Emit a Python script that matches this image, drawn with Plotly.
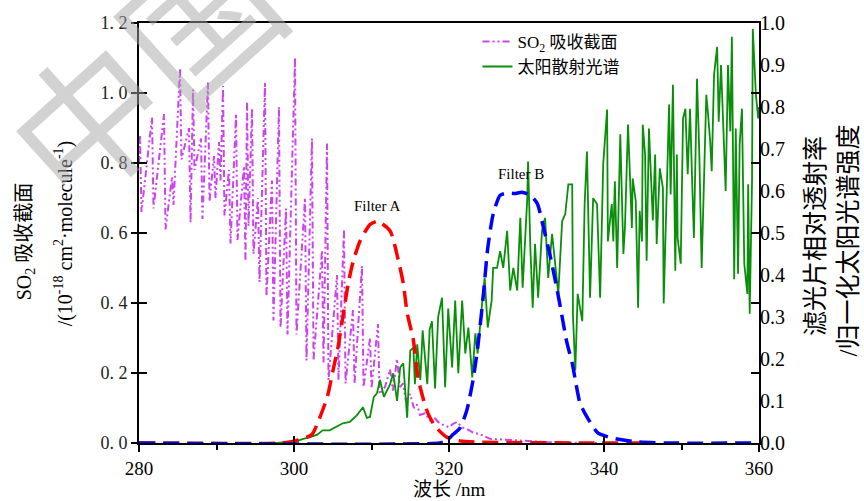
import plotly.graph_objects as go

# ---------------- data ----------------
# SO2 absorption cross-section (left axis, 1e-18 cm^2/molecule)
so2_wl = [280.0,
          280.13, 280.32, 281.68, 281.87, 283.23, 283.42, 284.26, 284.45,
          285.29, 285.48, 286.45, 286.65, 286.97, 287.16, 288.0, 288.19,
          288.9, 289.1, 289.68, 289.87, 290.32, 290.52, 290.84, 291.03,
          291.61, 291.81, 292.52, 292.71, 293.55, 293.74, 293.94, 294.13,
          294.58, 294.77, 295.35, 295.55, 296.26, 296.45, 297.16, 297.35,
          298.06, 298.26, 298.97, 299.16, 300.13, 300.32, 301.42, 301.61,
          302.32, 302.52, 303.61, 303.81, 304.26, 304.45, 305.55, 305.74,
          306.45, 306.65, 307.61, 307.81, 308.77, 308.97, 309.81, 310.0,
          310.84, 311.03,
          311.74, 312.39, 312.77, 313.29, 313.68, 314.06, 314.45, 314.97, 315.48, 315.87,
          316.26, 316.9, 317.55, 318.19, 318.84, 319.48, 320.0, 320.52, 321.03, 321.68,
          322.32, 323.1, 324.0, 325.29, 326.58, 327.87, 329.81, 332.39, 335.6, 339.5]
so2_val = [0.80,
           0.88, 0.66, 0.93, 0.67, 0.94, 0.61, 0.76, 0.68,
           1.07, 0.81, 0.90, 0.63, 1.01, 0.78, 0.87, 0.64,
           1.03, 0.69, 0.82, 0.70, 0.86, 0.75, 1.02, 0.65,
           0.78, 0.57, 0.94, 0.58, 0.79, 0.52, 0.975, 0.62,
           0.955, 0.54, 0.70, 0.46, 1.03, 0.42, 0.75, 0.35,
           0.96, 0.33, 0.67, 0.31, 1.10, 0.31, 0.70, 0.236,
           0.87, 0.236, 0.55, 0.23, 0.856, 0.18, 0.48, 0.18,
           0.61, 0.17, 0.38, 0.17, 0.506, 0.16, 0.30, 0.156,
           0.34, 0.14,
           0.16, 0.21, 0.15, 0.24, 0.16, 0.17, 0.12, 0.14, 0.10, 0.11,
           0.08, 0.085, 0.065, 0.07, 0.055, 0.05, 0.045, 0.055, 0.06, 0.045,
           0.04, 0.03, 0.025, 0.012, 0.01, 0.008, 0.005, 0.003, 0.001, 0.0]

# Normalised scattered solar spectrum (right axis)
sun_wl = [296.0, 297.8, 299.5, 300.4, 301.2, 302.1, 303.0, 303.7, 304.6, 305.5,
          306.3, 307.2, 308.1, 308.9, 309.4, 309.8, 310.3, 310.7, 311.1, 311.6,
          312.0, 312.4, 312.8, 313.3, 313.7, 314.1, 314.6, 315.0, 315.4, 315.6,
          315.9, 316.3, 316.6, 317.2, 317.5, 317.8, 318.2, 318.6, 319.1, 319.5,
          319.9, 320.4, 320.8, 321.2, 321.7, 322.1, 322.5, 323.0, 323.4, 323.7,
          324.3, 324.6, 325.0, 325.5, 325.7, 326.2, 326.6, 327.0, 327.5, 327.9,
          328.3, 328.8, 329.2, 329.5, 330.1, 330.2, 330.5, 330.8, 331.1, 331.5,
          332.0, 332.4, 332.8, 333.3, 333.7, 334.1, 334.6, 335.0, 335.4, 335.9,
          336.0, 336.3, 336.6, 337.2, 337.5, 337.8, 338.2, 338.6, 339.1, 339.5,
          339.9, 340.4, 340.5, 341.0, 341.2, 341.4, 341.7, 342.1, 342.5, 342.7,
          343.1, 343.6, 343.7, 344.1, 344.4, 344.6, 344.9, 345.0, 345.3, 345.5,
          345.8, 346.2, 346.3, 346.6, 346.8, 347.2, 347.6, 347.7, 348.1, 348.4,
          348.6, 348.9, 349.2, 349.4, 349.5, 349.9, 350.2, 350.5, 350.8, 351.1,
          351.4, 351.6, 352.0, 352.3, 352.6, 352.9, 353.2, 353.4, 353.7, 353.9,
          354.2, 354.6, 354.8, 355.1, 355.4, 355.7, 356.0, 356.3, 356.5, 356.8,
          357.0, 357.3, 357.5, 357.8, 358.1, 358.5, 358.6, 358.8, 359.1, 359.2,
          359.6, 359.9, 360.0]
sun_val = [0.0, 0.0, 0.003, 0.005, 0.01, 0.014, 0.02, 0.03, 0.03, 0.04,
           0.047, 0.05, 0.066, 0.085, 0.06, 0.062, 0.11, 0.118, 0.15, 0.11,
           0.125, 0.14, 0.166, 0.10, 0.18, 0.19, 0.06, 0.22, 0.227, 0.14,
           0.235, 0.15, 0.268, 0.14, 0.27, 0.29, 0.13, 0.30, 0.346, 0.133,
           0.32, 0.18, 0.339, 0.166, 0.339, 0.213, 0.275, 0.156, 0.261, 0.213,
           0.339, 0.393, 0.275, 0.339, 0.417, 0.417, 0.457, 0.417, 0.505, 0.363,
           0.417, 0.363, 0.536, 0.37, 0.583, 0.67, 0.464, 0.322, 0.474, 0.346,
           0.505, 0.536, 0.393, 0.498, 0.427, 0.355, 0.528, 0.545, 0.616, 0.616,
           0.30, 0.173, 0.355, 0.29, 0.569, 0.694, 0.346, 0.583, 0.569, 0.346,
           0.664, 0.794, 0.48, 0.569, 0.48, 0.623, 0.417, 0.735, 0.45, 0.512,
           0.758, 0.512, 0.63, 0.576, 0.322, 0.553, 0.48, 0.758, 0.687, 0.434,
           0.749, 0.559, 0.53, 0.687, 0.474, 0.654, 0.607, 0.332, 0.583, 0.806,
           0.592, 0.853, 0.41, 0.687, 0.488, 0.427, 0.773, 0.796, 0.64, 0.796,
           0.607, 0.488, 0.867, 0.687, 0.417, 0.64, 0.829, 0.789, 0.718, 0.647,
           0.877, 0.943, 0.765, 0.9, 0.742, 0.6, 0.9, 0.742, 0.967, 0.39,
           0.749, 0.403, 0.71, 0.796, 0.427, 0.355, 0.616, 0.308, 0.623, 0.986,
           0.829, 0.773, 0.80]

# Filter A relative transmittance (right axis)
fa_wl = [280.0, 298.2, 300.1, 302.3, 303.1, 304.3, 305.0, 305.7, 306.3, 307.0,
         307.6, 308.5, 309.8, 310.8, 312.4, 313.4, 314.1, 314.6, 315.4, 316.0,
         316.6, 317.3, 318.2, 319.7, 321.4, 324.0, 339.5, 345.0]
fa_val = [0.0, 0.0, 0.005, 0.02, 0.05, 0.11, 0.17, 0.23, 0.30, 0.38,
          0.43, 0.48, 0.52, 0.528, 0.505, 0.44, 0.38, 0.31, 0.245, 0.156,
          0.11, 0.07, 0.04, 0.014, 0.005, 0.002, 0.0, 0.0]

# Filter B relative transmittance (right axis)
fb_wl = [280.0, 318.8, 319.7, 320.5, 321.4, 322.3, 323.1, 323.7, 324.4, 325.0,
         325.7, 326.6, 327.5, 328.5, 329.4, 330.5, 331.4, 332.1, 333.0, 333.9,
         334.6, 335.2, 335.9, 336.3, 336.9, 337.8, 339.2, 341.0, 344.0, 348.0,
         360.0]
fb_val = [0.0, 0.0, 0.005, 0.02, 0.035, 0.078, 0.15, 0.227, 0.346, 0.464,
          0.545, 0.59, 0.595, 0.594, 0.597, 0.59, 0.57, 0.52, 0.45, 0.37,
          0.30, 0.24, 0.19, 0.15, 0.095, 0.062, 0.024, 0.012, 0.003, 0.0,
          0.0]

x_ticks = [280, 300, 320, 340, 360]
left_ticks = [0.0, 0.2, 0.4, 0.6, 0.8, 1.0, 1.2]
left_tick_labels = ["0. 0", "0. 2", "0. 4", "0. 6", "0. 8", "1. 0", "1. 2"]
right_ticks = [0.0, 0.1, 0.2, 0.3, 0.4, 0.5, 0.6, 0.7, 0.8, 0.9, 1.0]
right_tick_labels = ["0.0", "0.1", "0.2", "0.3", "0.4", "0.5", "0.6", "0.7", "0.8", "0.9", "1.0"]

SERIF = "Liberation Serif, Times New Roman, Noto Sans CJK SC, serif"

fig = go.Figure()

fig.add_trace(go.Scatter(
    x=so2_wl, y=so2_val, mode="lines", name="SO<sub>2</sub> 吸收截面",
    line=dict(color="#CC44EE", width=2, dash="7px,3px,2px,3px,2px,3px"),
    yaxis="y", hoverinfo="skip"))
fig.add_trace(go.Scatter(
    x=sun_wl, y=sun_val, mode="lines", name="太阳散射光谱",
    line=dict(color="#0A8F0A", width=1.8), yaxis="y2", hoverinfo="skip"))
fig.add_trace(go.Scatter(
    x=fa_wl, y=fa_val, mode="lines", name="Filter A", showlegend=False,
    line=dict(color="#FF0000", width=3.5, dash="16px,8px", shape="spline", smoothing=0.6),
    yaxis="y2", hoverinfo="skip"))
fig.add_trace(go.Scatter(
    x=fb_wl, y=fb_val, mode="lines", name="Filter B", showlegend=False,
    line=dict(color="#0000FF", width=3.5, dash="16px,8px", shape="spline", smoothing=0.6),
    yaxis="y2", hoverinfo="skip"))
# helper trace so the tick-overlay axes are drawn
fig.add_trace(go.Scatter(x=[None], y=[None], xaxis="x3", yaxis="y3",
                         showlegend=False, hoverinfo="skip"))

fig.update_layout(
    width=864, height=501,
    margin=dict(l=139, r=105, t=21, b=58),
    paper_bgcolor="white", plot_bgcolor="white",
    showlegend=True,
    legend=dict(x=0.546, y=0.998, xanchor="left", yanchor="top",
                bgcolor="rgba(0,0,0,0)", font=dict(family=SERIF, size=17, color="black"),
                tracegroupgap=0, itemwidth=30),
    xaxis=dict(range=[280, 360], tickvals=x_ticks, ticks="outside", ticklen=7,
               tickwidth=1.5, tickcolor="black",
               minor=dict(dtick=10, ticks="outside", ticklen=5, tickcolor="black", tickwidth=1.5),
               showline=True, linecolor="black", linewidth=2, mirror=True,
               showgrid=False, zeroline=False, tickfont=dict(family=SERIF, size=19, color="black")),
    xaxis3=dict(range=[280, 360], overlaying="x", tickvals=x_ticks, ticks="inside",
                ticklen=7, tickwidth=1.5, tickcolor="black", showticklabels=False,
                showline=False, showgrid=False, zeroline=False),
    yaxis=dict(range=[0, 1.2], tickvals=left_ticks, ticktext=left_tick_labels,
               ticks="outside", ticklen=6, tickwidth=1.5, tickcolor="black",
               showline=True, linecolor="black", linewidth=2, mirror=True,
               showgrid=False, zeroline=False, tickfont=dict(family=SERIF, size=18, color="#222")),
    yaxis3=dict(range=[0, 1.2], overlaying="y", tickvals=left_ticks, ticks="inside",
                ticklen=8, tickwidth=1.5, tickcolor="black", showticklabels=False,
                mirror="ticks", showline=False, showgrid=False, zeroline=False),
    yaxis2=dict(range=[0, 1.0], overlaying="y", side="right", tickvals=right_ticks,
                ticktext=right_tick_labels, ticks="", showline=False, showgrid=False,
                zeroline=False, tickfont=dict(family=SERIF, size=20, color="black")),
)

annotations = [
    dict(text="SO<sub>2</sub> 吸收截面", xref="paper", yref="paper", x=-0.183, y=0.479,
         textangle=-90, showarrow=False, xanchor="center", yanchor="middle",
         font=dict(family=SERIF, size=20, color="black")),
    dict(text="/(10<sup>-18</sup> cm<sup>2</sup>·molecule<sup>-1</sup>)", xref="paper", yref="paper",
         x=-0.122, y=0.50, textangle=-90, showarrow=False, xanchor="center", yanchor="middle",
         font=dict(family=SERIF, size=20, color="black")),
    dict(text="滤光片相对透射率", xref="paper", yref="paper", x=1.092, y=0.493,
         textangle=-90, showarrow=False, xanchor="center", yanchor="middle",
         font=dict(family=SERIF, size=25, color="black")),
    dict(text="/归一化太阳光谱强度", xref="paper", yref="paper", x=1.1445, y=0.481,
         textangle=-90, showarrow=False, xanchor="center", yanchor="middle",
         font=dict(family=SERIF, size=25, color="black")),
    dict(text="波长 /nm", xref="paper", yref="paper", x=0.5, y=-0.110,
         showarrow=False, xanchor="center", yanchor="middle",
         font=dict(family=SERIF, size=19, color="black")),
    dict(text="Filter A", xref="x", yref="y", x=310.7, y=0.677, showarrow=False,
         xanchor="center", yanchor="middle", font=dict(family=SERIF, size=15, color="black")),
    dict(text="Filter B", xref="x", yref="y", x=329.3, y=0.77, showarrow=False,
         xanchor="center", yanchor="middle", font=dict(family=SERIF, size=15, color="black")),
    # watermark
    dict(text="中国", xref="paper", yref="paper", x=0.0, y=0.90, textangle=-42,
         showarrow=False, xanchor="center", yanchor="middle",
         font=dict(family="Noto Sans CJK SC", size=150, color="rgba(165,165,165,0.5)")),
]
fig.update_layout(annotations=annotations)

fig.write_html("out.html", config={"displayModeBar": False},
               post_script="document.body.style.margin='0px';document.body.style.padding='0px';")
